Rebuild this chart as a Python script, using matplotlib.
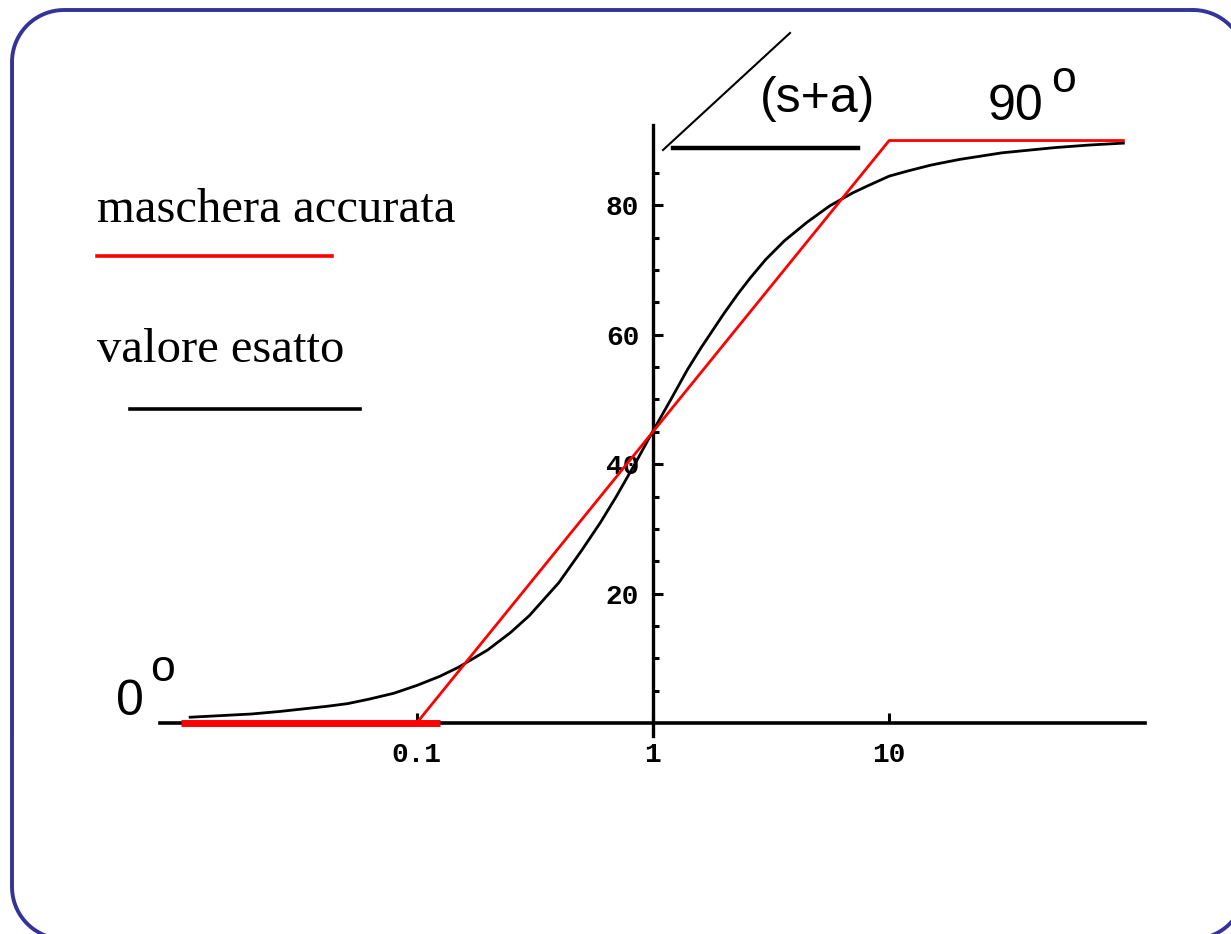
import matplotlib
matplotlib.use('Agg')
import matplotlib.pyplot as plt
import numpy as np
from matplotlib.lines import Line2D

# fase di (s+a): valore esatto e maschera asintotica
omega_exact = [0.011, 0.02, 0.0265, 0.042, 0.051, 0.063, 0.08, 0.1, 0.125, 0.15, 0.2,
               0.25, 0.3, 0.4, 0.5, 0.6, 0.7, 0.85, 1.0, 1.2, 1.4, 1.6, 2.0, 2.3, 2.6,
               3.0, 3.6, 4.5, 5.6, 7.0, 8.0, 10, 12, 15, 17, 20, 30, 50, 70, 98]
phase_exact = [0.9, 1.4, 1.8, 2.6, 3.0, 3.7, 4.6, 5.8, 7.2, 8.6, 11.3,
               14.0, 16.6, 21.7, 26.7, 31.0, 35.0, 40.4, 45.1, 50.2, 54.6, 58.0, 63.3, 66.4, 68.9,
               71.6, 74.5, 77.4, 79.9, 81.9, 82.9, 84.5, 85.3, 86.2, 86.6, 87.1, 88.1, 88.9, 89.3, 89.6]

omega_mask = [0.1, 10, 98]
phase_mask = [0, 90, 90]
omega_low = [0.0101, 0.125]
phase_low = [0, 0]

xticks = [0.1, 1, 10]
xlabels = ['0.1', '1', '10']
yticks = [20, 40, 60, 80]
yminor = [5, 10, 15, 25, 30, 35, 45, 50, 55, 65, 70, 75, 85]

W, H = 1231, 934
fig = plt.figure(figsize=(W / 100, H / 100), dpi=100)
fig.patch.set_facecolor('white')

def fx(x):
    return x / W

def fy(y):
    return 1 - y / H

def rounded_rect(x0, y0, x1, y1, r, n=40):
    # contorno di un rettangolo con angoli arrotondati (y verso il basso)
    corners = [(x1 - r, y0 + r, -90, 0), (x1 - r, y1 - r, 0, 90),
               (x0 + r, y1 - r, 90, 180), (x0 + r, y0 + r, 180, 270)]
    xs, ys = [], []
    for cx, cy, a0, a1 in corners:
        t = np.radians(np.linspace(a0, a1, n))
        xs += list(cx + r * np.cos(t))
        ys += list(cy + r * np.sin(t))
    xs.append(xs[0])
    ys.append(ys[0])
    return xs, ys

# sfondo in pixel per la cornice
bg = fig.add_axes([0, 0, 1, 1], zorder=-1)
bg.set_xlim(0, W)
bg.set_ylim(H, 0)
bg.axis('off')
bx, by = rounded_rect(12, 10, 1245, 939, 52)
bg.plot(bx, by, color='#333399', lw=2.8)

ax = fig.add_axes([fx(160), fy(736), (1145 - 160) / W, (736 - 125) / H])
ax.set_xscale('log')
ax.set_xlim(0.0082, 121)
ax.set_ylim(-2.0, 92.4)
ax.patch.set_alpha(0)

for s in ['top', 'right']:
    ax.spines[s].set_visible(False)
ax.spines['left'].set_position(('data', 1))
ax.spines['bottom'].set_position(('data', 0))
ax.spines['left'].set_linewidth(2.4)
ax.spines['bottom'].set_linewidth(2.6)

ax.set_xticks(xticks)
ax.set_xticklabels(xlabels)
ax.xaxis.set_minor_locator(matplotlib.ticker.NullLocator())
ax.set_yticks(yticks)
ax.set_yticks(yminor, minor=True)
ax.tick_params(axis='x', which='major', direction='in', length=7, width=2.2, pad=14)
ax.tick_params(axis='y', which='major', direction='in', length=7, width=2.2, pad=10)
ax.tick_params(axis='y', which='minor', direction='in', length=4.5, width=2.2)
for lab in ax.get_xticklabels() + ax.get_yticklabels():
    lab.set_fontfamily('Liberation Mono')
    lab.set_fontweight('bold')
    lab.set_fontsize(20)

ax.plot(omega_exact, phase_exact, color='black', lw=2.0, zorder=3)
ax.plot(omega_mask, phase_mask, color='red', lw=2.0, zorder=3)
ax.plot(omega_low, phase_low, color='red', lw=5.0, solid_capstyle='butt', zorder=3)

# legenda
fig.text(fx(97), fy(222), 'maschera accurata', family='Liberation Serif', fontsize=35,
         ha='left', va='baseline')
fig.add_artist(Line2D([fx(97), fx(332)], [fy(256), fy(256)], color='red', lw=2.6,
                      transform=fig.transFigure))
fig.text(fx(97), fy(362), 'valore esatto', family='Liberation Serif', fontsize=35,
         ha='left', va='baseline')
fig.add_artist(Line2D([fx(130), fx(360)], [fy(409), fy(409)], color='black', lw=2.6,
                      transform=fig.transFigure))

# simbolo di angolo (s+a)
fig.add_artist(Line2D([fx(663), fx(790)], [fy(150), fy(33)], color='black', lw=1.5,
                      transform=fig.transFigure))
fig.add_artist(Line2D([fx(673), fx(858)], [fy(148), fy(148)], color='black', lw=3.2,
                      transform=fig.transFigure))
fig.text(fx(760), fy(112), '(s+a)', family='Liberation Sans', fontsize=36,
         ha='left', va='baseline')

# etichette 0° e 90°
fig.text(fx(116), fy(715), '0', family='Liberation Sans', fontsize=36, ha='left', va='baseline')
fig.text(fx(150), fy(681), 'o', family='Liberation Sans', fontsize=32, ha='left', va='baseline')
fig.text(fx(988), fy(120), '90', family='Liberation Sans', fontsize=36, ha='left', va='baseline')
fig.text(fx(1051), fy(92), 'o', family='Liberation Sans', fontsize=32, ha='left', va='baseline')

fig.savefig('out.png', dpi=100)
